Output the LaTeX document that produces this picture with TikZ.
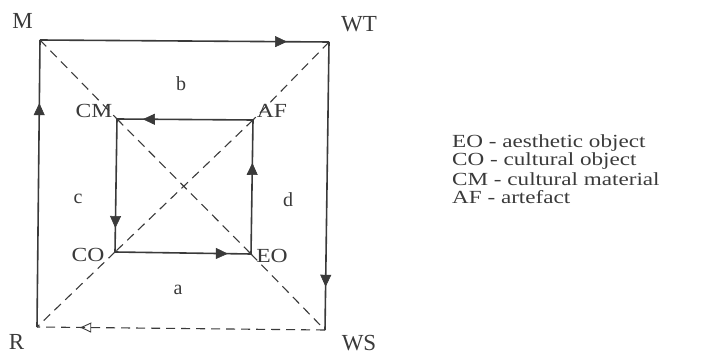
\documentclass[tikz,border=0pt]{standalone}
\usepackage{fontspec}
\setmainfont{Liberation Serif}
\usetikzlibrary{arrows.meta,decorations.markings}
\definecolor{ink}{HTML}{3A3A3A}
\definecolor{tipfill}{HTML}{6A6A6A}
\tikzset{
  x=1pt,y=-1pt,
  solidedge/.style={draw=ink,line width=1.6pt},
  dashedge/.style={draw=ink,line width=1.1pt,dash pattern=on 9pt off 6pt},
  arrat/.style={postaction={decorate},decoration={markings,
     mark=at position #1 with {\arrow[ink,fill=tipfill,line width=0.6pt]{Triangle[width=11pt,length=12pt]}}}},
  openarrat/.style={postaction={decorate},decoration={markings,
     mark=at position #1 with {\arrow[ink,line width=0.9pt]{Triangle[open,width=10pt,length=11pt]}}}},
  biglab/.style={font=\fontsize{23}{25}\selectfont,text=ink,inner sep=0pt},
  midlab/.style={font=\fontsize{20}{22}\selectfont,text=ink,inner sep=0pt},
  leg/.style={font=\fontsize{18.5}{20}\selectfont,text=ink,inner sep=0pt,anchor=west},
}
\newcommand{\wide}[1]{\scalebox{1.18}[1]{#1}}
\newcommand{\wider}[1]{\scalebox{1.25}[1]{#1}}
\begin{document}
\begin{tikzpicture}
\useasboundingbox (0,0) rectangle (707,355);
% corners
\coordinate (M) at (40,40);
\coordinate (WT) at (329,42);
\coordinate (WS) at (325,330);
\coordinate (R) at (37,327);
\coordinate (CM) at (117,119);
\coordinate (AF) at (253,120);
\coordinate (CO) at (115,252);
\coordinate (EO) at (251,254);
% dashed diagonals
\draw[dashedge] (M) -- (CM);
\draw[dashedge] (CM) -- (EO);
\draw[dashedge] (EO) -- (WS);
\draw[dashedge] (WT) -- (AF);
\draw[dashedge] (AF) -- (CO);
\draw[dashedge] (CO) -- (R);
% outer square
\draw[solidedge,arrat=0.855] (M) -- (WT);
\draw[solidedge,arrat=0.85] (WT) -- (WS);
\draw[dashedge,openarrat=0.85] (WS) -- (R);
\draw[solidedge,arrat=0.78] (R) -- (M);
% inner square
\draw[solidedge,arrat=0.81] (AF) -- (CM);
\draw[solidedge,arrat=0.82] (CM) -- (CO);
\draw[solidedge,arrat=0.83] (CO) -- (EO);
\draw[solidedge,arrat=0.68] (EO) -- (AF);
% labels
\node[biglab] (lM) at (22.5,21) {M};
\node[biglab] (lWT) at (359,24) {WT};
\node[biglab] (lR) at (16.5,342) {R};
\node[biglab] (lWS) at (359,343) {WS};
\node[midlab] (lCM) at (94,111) {\wide{CM}};
\node[midlab] (lAF) at (272,111) {\wide{AF}};
\node[midlab] (lCO) at (88,255) {\wide{CO}};
\node[midlab] (lEO) at (272,256) {\wide{EO}};
\node[midlab] (lb) at (181,84) {b};
\node[midlab] (lc) at (78,199) {c};
\node[midlab] (ld) at (288,200) {d};
\node[midlab] (la) at (178,290) {a};
% legend
\node[leg] (g1) at (452,143) {\wider{EO - aesthetic object}};
\node[leg] (g2) at (452,161) {\wider{CO - cultural object}};
\node[leg] (g3) at (452,179) {\wider{CM - cultural material}};
\node[leg] (g4) at (452,197) {\wider{AF - artefact}};
\end{tikzpicture}
\end{document}
